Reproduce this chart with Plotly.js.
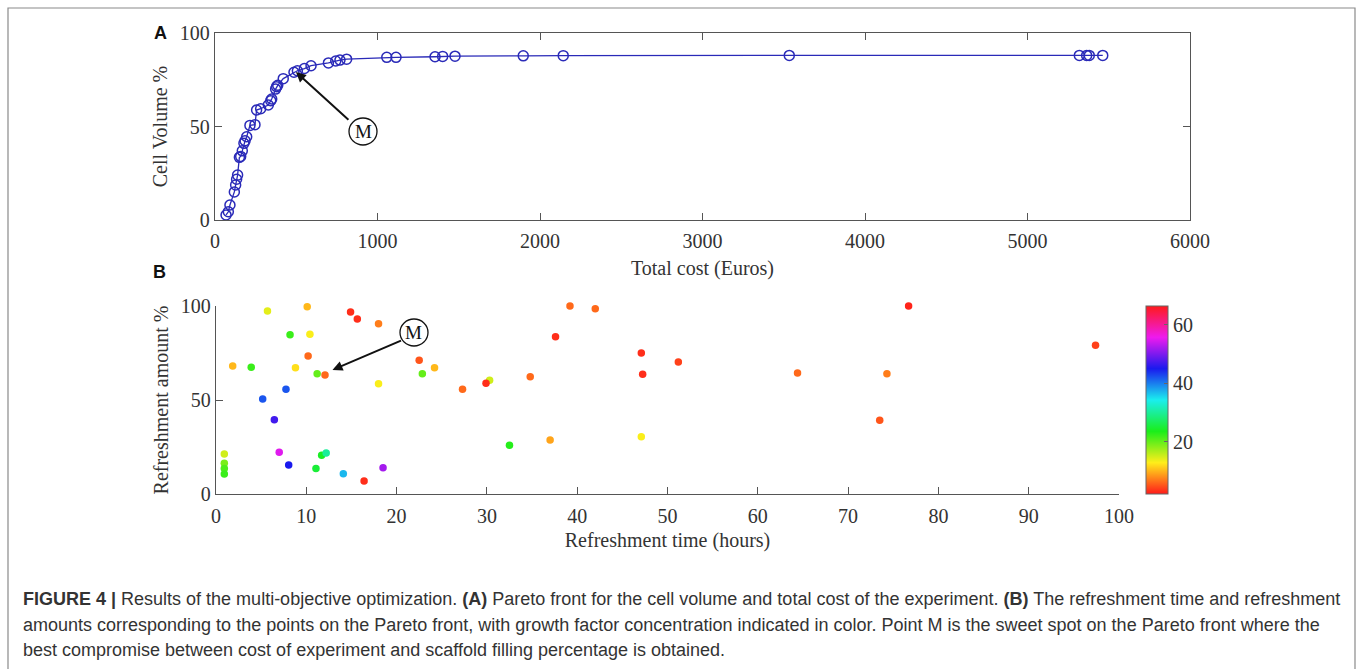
<!DOCTYPE html>
<html>
<head>
<meta charset="utf-8">
<script src="https://cdn.plot.ly/plotly-3.0.1.min.js"></script>
<style>
html,body{margin:0;padding:0;background:#fff;}
#chart{width:1360px;height:669px;}
</style>
</head>
<body>
<div id="chart"></div>
<script>
// Panel A: Pareto front (total cost vs cell volume)
const paretoCost = [68, 82, 92, 119, 127, 133, 139, 150, 158, 168, 178, 185, 195, 215, 246, 256, 281, 328, 343, 349, 373, 379, 386, 420, 486, 507, 550, 591, 698, 743, 769, 810, 1057, 1114, 1354, 1401, 1477, 1897, 2143, 3534, 5319, 5364, 5380, 5463];
const paretoVolume = [2.7, 4.4, 8, 15, 18.7, 21.8, 24, 33.5, 34, 37, 41, 42.4, 44.5, 50.6, 51, 58.8, 59.5, 61.5, 63.8, 64.7, 70, 71.3, 72, 75.6, 79, 79.8, 81, 82.5, 84, 85, 85.5, 86, 87, 87, 87.3, 87.5, 87.6, 87.8, 87.9, 88, 88, 88, 88, 88];

// Panel B: refreshment time / amount / growth factor concentration
const refreshTime = [1.85, 3.9, 5.7, 10.1, 8.2, 10.4, 10.2, 8.8, 11.2, 12.07, 14.9, 15.65, 18.0, 18.0, 5.17, 7.75, 6.46, 7.0, 8.05, 0.92, 0.92, 0.92, 0.92, 11.07, 11.7, 12.2, 14.1, 16.4, 18.5, 22.5, 22.85, 24.2, 27.3, 30.3, 29.9, 34.8, 39.2, 42.0, 37.6, 47.1, 47.25, 51.2, 32.5, 37.0, 47.1, 64.4, 74.3, 73.5, 76.7, 97.4];
const refreshAmount = [68.1, 67.4, 97.3, 99.6, 84.7, 85, 73.4, 67.2, 64, 63.3, 96.8, 93.1, 90.6, 58.7, 50.5, 55.7, 39.5, 22.2, 15.4, 21.3, 16.3, 13.5, 10.6, 13.5, 20.6, 21.8, 10.8, 6.9, 14, 71.1, 64, 67.2, 55.7, 60.5, 58.9, 62.4, 100, 98.6, 83.7, 75, 63.7, 70.2, 25.9, 28.7, 30.5, 64.4, 64, 39.2, 100, 79.1];
const growthFactor = [10, 22, 14, 10, 22, 13, 6, 12, 20, 6, 3, 3, 7, 13, 42, 42, 47, 55, 45, 15, 19, 21, 22, 25, 24, 30, 37, 3, 52, 5, 20, 10, 6, 15, 3, 6, 6, 6, 3, 3, 3, 4, 23, 9, 13, 6, 7, 5, 2.5, 4];

const colorbarTicks = [20, 40, 60];
const xTicksA = [0, 1000, 2000, 3000, 4000, 5000, 6000];
const yTicksA = [0, 50, 100];
const xTicksB = [0, 10, 20, 30, 40, 50, 60, 70, 80, 90, 100];
const yTicksB = [0, 50, 100];

const captionLines = [
  "<b>FIGURE 4 |</b> Results of the multi-objective optimization. <b>(A)</b> Pareto front for the cell volume and total cost of the experiment. <b>(B)</b> The refreshment time and refreshment",
  "amounts corresponding to the points on the Pareto front, with growth factor concentration indicated in color. Point M is the sweet spot on the Pareto front where the",
  "best compromise between cost of experiment and scaffold filling percentage is obtained."
];

const W = 1360, H = 669;
const px = v => v / W;
const py = v => 1 - v / H;

const serif = "Liberation Serif, Times New Roman, serif";
const sans = "Liberation Sans, Arial, sans-serif";
const axisColor = "#555";

const hsv = [[0, "#ff1a1a"], [1/6, "#ffee1a"], [1/3, "#1aee1a"], [0.5, "#1aeeee"], [2/3, "#1a1aee"], [5/6, "#ee1aee"], [1, "#ff1a1a"]];

const traceA = {
  x: paretoCost, y: paretoVolume, xaxis: "x", yaxis: "y",
  mode: "lines+markers", type: "scatter", cliponaxis: false,
  line: {color: "#2a2ab8", width: 1.3},
  marker: {symbol: "circle-open", size: 10, color: "#2a2ab8", line: {width: 1.5, color: "#2a2ab8"}},
  hoverinfo: "x+y", showlegend: false
};

const traceB = {
  x: refreshTime, y: refreshAmount, xaxis: "x2", yaxis: "y2",
  mode: "markers", type: "scatter", cliponaxis: false,
  marker: {
    size: 7.5, color: growthFactor, colorscale: hsv, cmin: 2, cmax: 66.5,
    line: {width: 0},
    showscale: true,
    colorbar: {
      x: px(1146), xanchor: "left", y: py(494), yanchor: "bottom",
      len: 188, lenmode: "pixels", thickness: 22, thicknessmode: "pixels",
      outlinecolor: "#666", outlinewidth: 1,
      tickvals: colorbarTicks, ticks: "inside", ticklen: 4, tickcolor: "#666",
      tickfont: {family: serif, size: 20, color: "#333"}, xpad: 0, ypad: 0
    }
  },
  hoverinfo: "x+y", showlegend: false
};

const tickFont = {family: serif, size: 20, color: "#333"};
const titleFont = {family: serif, size: 20, color: "#333"};

const layout = {
  width: W, height: H,
  margin: {l: 0, r: 0, t: 0, b: 0},
  paper_bgcolor: "#fff", plot_bgcolor: "#fff",
  xaxis: {
    domain: [px(215), px(1190)], range: [0, 6000], anchor: "y",
    tickvals: xTicksA, ticks: "inside", ticklen: 7, tickcolor: axisColor,
    showline: true, mirror: "ticks", linecolor: axisColor, linewidth: 1.2,
    showgrid: false, zeroline: false, tickfont: tickFont, ticklabelstandoff: 3,
    title: {text: "Total cost (Euros)", font: titleFont, standoff: 9}
  },
  yaxis: {
    domain: [py(220), py(33)], range: [0, 100], anchor: "x",
    tickvals: yTicksA, ticks: "inside", ticklen: 7, tickcolor: axisColor,
    showline: true, mirror: "ticks", linecolor: axisColor, linewidth: 1.2,
    showgrid: false, zeroline: false, tickfont: tickFont,
    title: {text: "Cell Volume %", font: titleFont, standoff: 6}
  },
  xaxis2: {
    domain: [px(216), px(1119)], range: [0, 100], anchor: "y2",
    tickvals: xTicksB, ticks: "inside", ticklen: 7, tickcolor: axisColor,
    showline: true, linecolor: axisColor, linewidth: 1.2,
    showgrid: false, zeroline: false, tickfont: tickFont, ticklabelstandoff: 4,
    title: {text: "Refreshment time (hours)", font: titleFont, standoff: 6}
  },
  yaxis2: {
    domain: [py(494), py(306)], range: [0, 100], anchor: "x2",
    tickvals: yTicksB, ticks: "inside", ticklen: 7, tickcolor: axisColor,
    showline: true, linecolor: axisColor, linewidth: 1.2,
    showgrid: false, zeroline: false, tickfont: tickFont,
    title: {text: "Refreshment amount %", font: titleFont, standoff: 6}
  },
  shapes: [
    {type: "rect", xref: "paper", yref: "paper", x0: px(8), x1: px(1355), y0: py(672), y1: py(8),
     line: {color: "#8a8a8a", width: 1.2}, fillcolor: "rgba(0,0,0,0)"},
    {type: "circle", xref: "paper", yref: "paper", x0: px(349), x1: px(377), y0: py(145), y1: py(118),
     line: {color: "#111", width: 1.3}},
    {type: "circle", xref: "paper", yref: "paper", x0: px(400), x1: px(428), y0: py(346), y1: py(319),
     line: {color: "#111", width: 1.3}}
  ],
  annotations: [
    {text: "<b>A</b>", xref: "paper", yref: "paper", x: px(152), y: py(33), xanchor: "left", yanchor: "middle",
     showarrow: false, font: {family: sans, size: 18, color: "#111"}},
    {text: "<b>B</b>", xref: "paper", yref: "paper", x: px(151), y: py(272), xanchor: "left", yanchor: "middle",
     showarrow: false, font: {family: sans, size: 18, color: "#111"}},
    {text: "M", xref: "paper", yref: "paper", x: px(363), y: py(131.5), xanchor: "center", yanchor: "middle",
     showarrow: false, font: {family: serif, size: 19, color: "#111"}},
    {text: "M", xref: "paper", yref: "paper", x: px(414), y: py(332.5), xanchor: "center", yanchor: "middle",
     showarrow: false, font: {family: serif, size: 19, color: "#111"}},
    {text: "", xref: "x", yref: "y", x: 498, y: 79.1, ax: 54, ay: 49, axref: "pixel", ayref: "pixel",
     showarrow: true, arrowhead: 2, arrowsize: 1, arrowwidth: 2, arrowcolor: "#111", standoff: 0},
    {text: "", xref: "x2", yref: "y2", x: 12.9, y: 66, ax: 70, ay: -30, axref: "pixel", ayref: "pixel",
     showarrow: true, arrowhead: 2, arrowsize: 1, arrowwidth: 2, arrowcolor: "#111", standoff: 0}
  ].concat(captionLines.map((t, i) => ({
    text: t, xref: "paper", yref: "paper", x: px(21), y: py(599 + i * 25.5),
    xanchor: "left", yanchor: "middle", showarrow: false, align: "left",
    font: {family: sans, size: 18, color: "#333"}
  })))
};

Plotly.newPlot("chart", [traceA, traceB], layout, {staticPlot: true, displayModeBar: false});
</script>
</body>
</html>
